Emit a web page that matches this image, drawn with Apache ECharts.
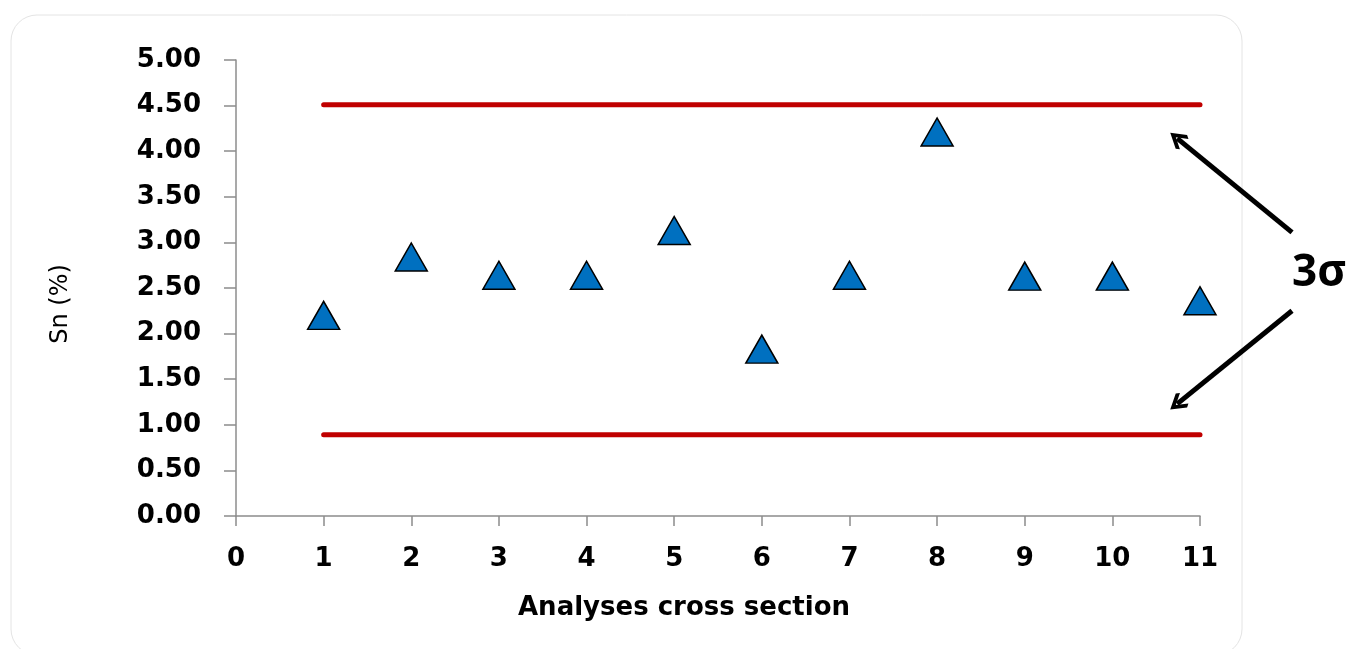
<!DOCTYPE html>
<html>
<head>
<meta charset="utf-8">
<script src="https://cdn.jsdelivr.net/npm/echarts@6/dist/echarts.min.js"></script>
<style>
  html, body { margin: 0; padding: 0; background: #fff; }
  #chart { width: 1349px; height: 649px; }
</style>
</head>
<body>
<div id="chart"></div>
<script>
// analyses cross sections and Sn content (%)
const sections = [1, 2, 3, 4, 5, 6, 7, 8, 9, 10, 11];
const snValues = [2.20, 2.84, 2.64, 2.64, 3.13, 1.83, 2.64, 4.21, 2.63, 2.63, 2.36];
// 3 sigma control limits
const upperLimit = 4.51;
const lowerLimit = 0.89;
// annotation arrows: [from, to] in data units
const upperArrow = [[12.05, 3.11], [10.74, 4.14]];
const lowerArrow = [[12.05, 2.25], [10.74, 1.23]];

const chart = echarts.init(document.getElementById('chart'));
const font = '"DejaVu Sans", sans-serif';
const axisGray = '#8c8c8c';

// chevron-shaped arrow head (open arrow)
const chevron = 'path://M0,0 L12,12 L9,15 L0,6 L-9,15 L-12,12 Z';

const points = sections.map((s, i) => [s, snValues[i]]);

const option = {
  animation: false,
  backgroundColor: '#fff',
  grid: { left: 236, right: 149, top: 60, bottom: 133, containLabel: false },
  graphic: [
    {
      type: 'rect',
      shape: { x: 11, y: 15, width: 1231, height: 640, r: 26 },
      style: { fill: 'none', stroke: '#e4e4e4', lineWidth: 1 },
      z: -1
    },
    {
      type: 'text',
      left: 1292, top: 251,
      style: { text: '3\u03c3', font: 'bold 44px "Open Sans", sans-serif', fill: '#000' }
    }
  ],
  xAxis: {
    type: 'value',
    min: 0, max: 11, interval: 1,
    splitLine: { show: false },
    axisLine: { lineStyle: { color: axisGray, width: 1.5 } },
    axisTick: { show: true, length: 10, lineStyle: { color: axisGray, width: 1.5 } },
    axisLabel: { margin: 30, color: '#000', fontWeight: 'bold', fontSize: 26, fontFamily: font },
    name: 'Analyses cross section',
    nameLocation: 'middle',
    nameGap: 79,
    nameTextStyle: {
      color: '#000', fontWeight: 'bold', fontSize: 26, fontFamily: font,
      padding: [0, 68, 0, 0]
    }
  },
  yAxis: {
    type: 'value',
    min: 0, max: 5, interval: 0.5,
    splitLine: { show: false },
    axisLine: { show: true, lineStyle: { color: axisGray, width: 1.5 } },
    axisTick: { show: true, length: 12, lineStyle: { color: axisGray, width: 1.5 } },
    axisLabel: {
      margin: 35, color: '#000', fontWeight: 'bold', fontSize: 26, fontFamily: font,
      formatter: v => v.toFixed(2)
    },
    name: 'Sn (%)',
    nameLocation: 'middle',
    nameGap: 163,
    nameTextStyle: { color: '#000', fontSize: 24, fontFamily: font, padding: [0, 32, 0, 0] }
  },
  series: [
    {
      name: 'upper',
      type: 'line',
      data: [[sections[0], upperLimit], [sections[sections.length - 1], upperLimit]],
      symbol: 'none',
      lineStyle: { color: '#c00000', width: 5, cap: 'round' },
      z: 1
    },
    {
      name: 'lower',
      type: 'line',
      data: [[sections[0], lowerLimit], [sections[sections.length - 1], lowerLimit]],
      symbol: 'none',
      lineStyle: { color: '#c00000', width: 5, cap: 'round' },
      z: 1
    },
    {
      name: 'Sn',
      type: 'scatter',
      data: points,
      symbol: 'triangle',
      symbolSize: [32, 28],
      clip: false,
      itemStyle: { color: '#0070c0', borderColor: '#000', borderWidth: 1.5, opacity: 1 },
      z: 3
    },
    {
      name: 'arrows',
      type: 'lines',
      coordinateSystem: 'cartesian2d',
      clip: false,
      silent: true,
      symbol: ['none', chevron],
      symbolSize: [28, 18],
      lineStyle: { color: '#000', width: 5, opacity: 1 },
      itemStyle: { color: '#000' },
      data: [{ coords: upperArrow }, { coords: lowerArrow }],
      z: 4
    }
  ]
};

chart.setOption(option);
</script>
</body>
</html>
